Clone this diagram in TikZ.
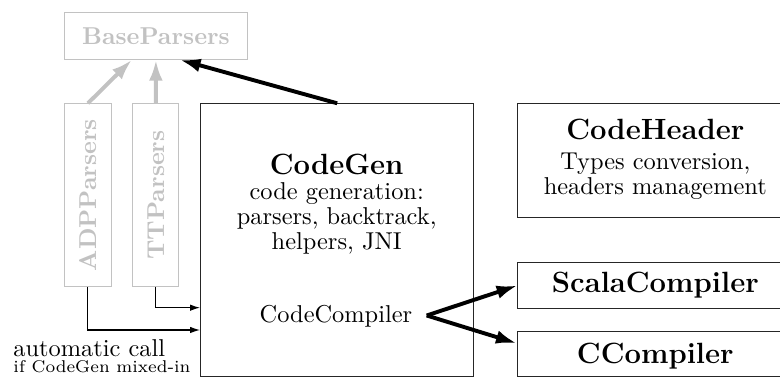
\documentclass[tikz,border=0pt]{standalone}
\usetikzlibrary{arrows.meta,calc}
\definecolor{lgray}{gray}{0.76}
\begin{document}
\begin{tikzpicture}[x=0.41pt,y=-0.41pt,
  boxwh/.style 2 args={minimum width=#1*0.41pt, minimum height=#2*0.41pt},
  bbox/.style={draw=black!85, line width=0.45pt, inner sep=0pt, anchor=north west},
  gbox/.style={draw=lgray, line width=0.45pt, inner sep=0pt, anchor=north west},
  gtext/.style={text=lgray, font=\bfseries, inner sep=0pt},
  ttl/.style={font=\large\bfseries, anchor=base, inner sep=0pt},
  txt/.style={anchor=base, inner sep=0pt},
  bigarrow/.style={line width=1.6pt, -{Latex[length=8.5pt,width=5.6pt]}},
  garrow/.style={bigarrow, draw=lgray, fill=lgray},
  thinarrow/.style={line width=0.45pt, -{Latex[length=4pt,width=2.6pt]}}
]
\useasboundingbox (0,0) rectangle (780,377);

% boxes
\node[gbox, boxwh={182.7}{46.4}] (base) at (64,12.3) {};
\node[gbox, boxwh={46.7}{182.4}] (adp) at (64,103.3) {};
\node[gbox, boxwh={46}{182.4}] (tt) at (132.3,103.3) {};
\node[bbox, boxwh={273.3}{272.4}] (cg) at (200,103.3) {};
\node[bbox, boxwh={276}{113.7}] (ch) at (517.3,103.3) {};
\node[bbox, boxwh={276}{46}] (sc) at (517.3,262) {};
\node[bbox, boxwh={276}{45}] (cc) at (517.3,331) {};

% gray labels
\node[gtext] (baset) at (base.center) {BaseParsers};
\node[gtext, rotate=90] (adpt) at (adp.center) {ADPParsers};
\node[gtext, rotate=90] (ttt) at (tt.center) {TTParsers};

% CodeGen texts
\node[ttl] (cgt) at (336.7,174.3) {CodeGen};
\node[txt] (cg1) at (336.7,200) {code generation:};
\node[txt] (cg2) at (336.7,225) {parsers, backtrack,};
\node[txt] (cg3) at (336.7,250) {helpers, JNI};
\node[txt] (ccomp) at (336,323) {CodeCompiler};

% CodeHeader texts
\node[ttl] (cht) at (655.3,140) {CodeHeader};
\node[txt] (ch1) at (655.3,170) {Types conversion,};
\node[txt] (ch2) at (655.3,194.5) {headers management};

% compilers
\node[ttl] (sct) at (655.3,292.7) {ScalaCompiler};
\node[ttl] (cct) at (655.3,363.3) {CCompiler};

% note
\node[anchor=base west, inner sep=0pt] (note1) at (13,356.7) {automatic call};
\node[anchor=base west, inner sep=0pt, font=\scriptsize] (note2) at (13,372.5) {if CodeGen mixed-in};

% arrows to BaseParsers
\draw[garrow] (adp.north) -- ($(base.south)+(-24,0)$);
\draw[garrow] (tt.north) -- (base.south);
\draw[bigarrow] (cg.north) -- ($(base.south)+(24,0)$);

% thin call arrows
\coordinate (in1) at (200,307.7);
\coordinate (in2) at (200,330);
\draw[thinarrow] (tt.south) |- (in1);
\draw[thinarrow] (adp.south) |- (in2);

% compiler arrows
\coordinate (src) at (426.7,315.5);
\coordinate (ccin) at (516.7,343.3);
\draw[bigarrow] (src) -- (sc.west);
\draw[bigarrow] (src) -- (ccin);
\end{tikzpicture}
\end{document}
